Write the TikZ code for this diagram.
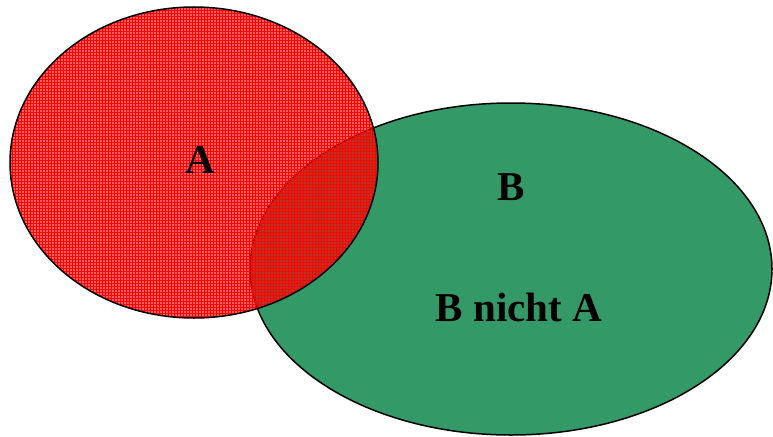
\documentclass[tikz,border=0pt]{standalone}
\usepackage{fontspec}
\setmainfont{Liberation Serif}
\usetikzlibrary{patterns}
\definecolor{setgreen}{RGB}{51,153,102}
\begin{document}
\begin{tikzpicture}[x=1pt,y=-1pt,
  setlabel/.style={font=\fontsize{41}{41}\selectfont\bfseries, inner sep=0pt},
  rim/.style={line width=1.5pt, draw=black}]
\useasboundingbox (0,0) rectangle (773,436);

% Set B
\fill[setgreen] (511,269) ellipse [x radius=261pt, y radius=166pt];
\draw[rim] (511,269) ellipse [x radius=261pt, y radius=166pt];

% Set A, hatched and see-through
\fill[red, fill opacity=0.62] (194,162.5) ellipse [x radius=184pt, y radius=155.5pt];
\fill[pattern=grid, pattern color=red] (194,162.5) ellipse [x radius=184pt, y radius=155.5pt];
\draw[rim] (194,162.5) ellipse [x radius=184pt, y radius=155.5pt];

% Labels
\node[setlabel] (labA) at (200,160) {A};
\node[setlabel] (labB) at (511,187) {B};
\node[setlabel] (labBnotA) at (519,307) {B nicht A};
\end{tikzpicture}
\end{document}
